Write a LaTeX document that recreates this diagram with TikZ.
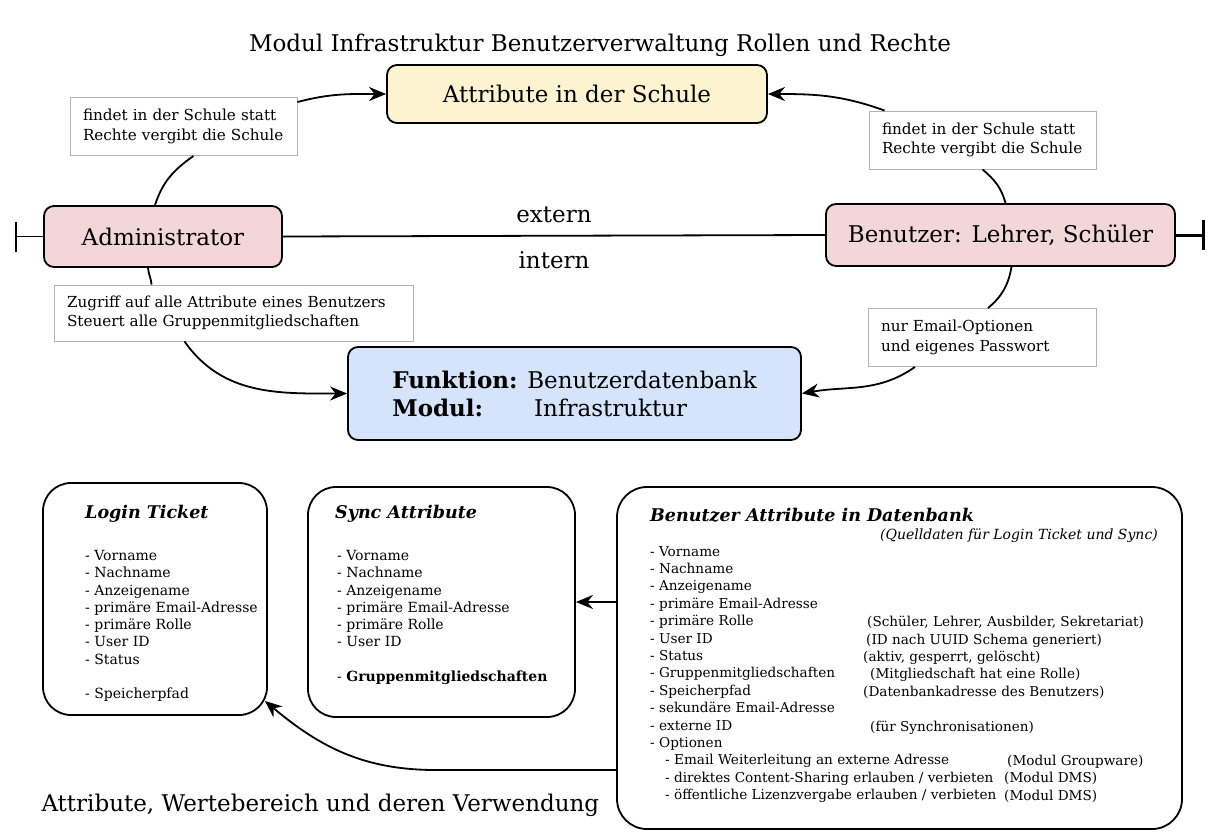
\documentclass[tikz,border=0pt]{standalone}
\usepackage{fontspec}
\setmainfont{DejaVu Serif}
\usepackage{tikz}
\usetikzlibrary{arrows.meta}
\definecolor{attrfill}{RGB}{253,243,208}
\definecolor{rolefill}{RGB}{243,214,216}
\definecolor{funkfill}{RGB}{213,228,250}
\newcommand{\grosstxt}{\fontsize{23}{28}\selectfont}
\newcommand{\notiztxt}{\fontsize{15.2}{19.5}\selectfont}
\newcommand{\listtxt}{\fontsize{14}{17.3}\selectfont}
\newcommand{\dbtxt}{\fontsize{13.6}{17.4}\selectfont}
\newcommand{\kopftxt}{\fontsize{17.5}{21}\selectfont\bfseries\itshape}

\begin{document}
\begin{tikzpicture}[x=1pt,y=-1pt,
  role/.style={draw,line width=1.8,rounded corners=10,font=\grosstxt},
  lbl/.style={draw=gray!60,line width=0.9,fill=white,align=left,inner xsep=13,font=\notiztxt,minimum height=58},
  panel/.style={draw,line width=1.8,rounded corners=28,fill=white},
  liste/.style={align=left,inner sep=0,font=\listtxt},
  kopf/.style={inner sep=0,font=\kopftxt},
  conn/.style={line width=1.8},
  arr/.style={conn,-{Stealth[length=17pt,width=14pt]}}]
\useasboundingbox (0,0) rectangle (1210,831);

\node[font=\grosstxt] (titel) at (600,45) {Modul Infrastruktur Benutzerverwaltung Rollen und Rechte};
\node[role,fill=attrfill,minimum width=380,minimum height=58] (attr) at (577,94) {Attribute in der Schule};
\node[role,fill=rolefill,minimum width=238,minimum height=61] (admin) at (163,236.5) {Administrator};
\node[role,fill=rolefill,minimum width=349,minimum height=62] (benu) at (1000.5,235) {Benutzer: Lehrer, Schüler};
\node[role,fill=funkfill,minimum width=453,minimum height=93,align=left,font=\grosstxt] (funk) at (574.5,393.5)
  {\textbf{Funktion:} Benutzerdatenbank\\\textbf{Modul:}\hspace{51pt}Infrastruktur};

\node[lbl,text width=201] (lab1) at (183.5,126.5) {findet in der Schule statt\\Rechte vergibt die Schule};
\node[lbl,text width=201] (lab2) at (982.5,140) {findet in der Schule statt\\Rechte vergibt die Schule};
\node[lbl,text width=333,minimum height=56] (lab3) at (233.5,313) {Zugriff auf alle Attribute eines Benutzers\\Steuert alle Gruppenmitgliedschaften};
\node[lbl,text width=202] (lab4) at (982,337.5) {nur Email-Optionen\\und eigenes Passwort};

\coordinate (lend) at (15,236.5);
\coordinate (rend) at (1205,235);
\draw[conn,-{Bar[width=30pt]}] (admin.west) -- (lend);
\draw[line width=3,-{Bar[width=30pt]}] (benu.east) -- (rend);
\draw[conn] (admin.east) -- node[above=9pt,font=\grosstxt] (ext) {extern} node[below=12pt,font=\grosstxt] (int) {intern} (benu.west);

\draw[conn] ([xshift=-8]admin.north) to[out=72,in=-145] ([xshift=10]lab1.south);
\draw[arr] ([yshift=-5]lab1.north east) to[out=15,in=180] (attr.west);
\draw[conn] ([xshift=5]benu.north) to[out=105,in=-40] (lab2.south);
\draw[arr] ([xshift=16]lab2.north west) to[out=160,in=0] (attr.east);
\draw[conn] ([xshift=-15]admin.south) to[out=-85,in=95] ([xshift=98]lab3.north west);
\draw[arr] ([xshift=131]lab3.south west) to[out=-55,in=180] (funk.west);
\draw[conn] ([xshift=11]benu.south) to[out=-100,in=40] ([xshift=6]lab4.north);
\draw[arr] ([xshift=-67]lab4.south) to[out=-145,in=10] (funk.east);

\node[panel,minimum width=224,minimum height=232] (login) at (155,599) {};
\node[panel,minimum width=267,minimum height=230] (sync) at (441.5,602) {};
\node[panel,minimum width=565,minimum height=342,rounded corners=30] (db) at (899.5,658) {};

\node[kopf,anchor=west] (logintl) at (85,514) {Login Ticket};
\node[liste,anchor=north west] (loginit) at (85,550) {- Vorname\\- Nachname\\- Anzeigename\\- primäre Email-Adresse\\- primäre Rolle\\- User ID\\- Status\\[17.3pt]- Speicherpfad};
\node[kopf,anchor=west] (synctl) at (335,514) {Sync Attribute};
\node[liste,anchor=north west] (syncit) at (337,550) {- Vorname\\- Nachname\\- Anzeigename\\- primäre Email-Adresse\\- primäre Rolle\\- User ID\\[17.3pt]- \textbf{Gruppenmitgliedschaften}};
\node[kopf,anchor=west] (dbtl) at (650,515) {Benutzer Attribute in Datenbank};
\node[liste,anchor=east,font=\listtxt\itshape] (dbquelle) at (1158,536) {(Quelldaten für Login Ticket und Sync)};
\node[liste,anchor=north west,font=\dbtxt] (dbit) at (650,546) {- Vorname\\- Nachname\\- Anzeigename\\- primäre Email-Adresse\\- primäre Rolle\\- User ID\\- Status\\- Gruppenmitgliedschaften\\- Speicherpfad\\- sekundäre Email-Adresse\\- externe ID\\- Optionen\\\hspace*{15pt}- Email Weiterleitung an externe Adresse\\\hspace*{15pt}- direktes Content-Sharing erlauben / verbieten\\\hspace*{15pt}- öffentliche Lizenzvergabe erlauben / verbieten};
\node[liste,anchor=north west,font=\dbtxt] (dbwert) at (863,616) {\hspace*{4pt}(Schüler, Lehrer, Ausbilder, Sekretariat)\\\hspace*{3pt}(ID nach UUID Schema generiert)\\(aktiv, gesperrt, gelöscht)\\\hspace*{7pt}(Mitgliedschaft hat eine Rolle)\\(Datenbankadresse des Benutzers)\\[17.4pt]\hspace*{7pt}(für Synchronisationen)};
\node[liste,anchor=north west,font=\dbtxt] (dbmodul) at (1004,755) {\hspace*{3pt}(Modul Groupware)\\(Modul DMS)\\(Modul DMS)};

\draw[arr] (db.west |- sync.east) -- (sync.east);
\draw[arr] ([yshift=-112]db.west) -- ++(-180,0) to[out=180,in=-40] ([xshift=-3,yshift=15]login.south east);

\node[font=\grosstxt,anchor=west] (capt) at (38,805) {Attribute, Wertebereich und deren Verwendung};
\end{tikzpicture}
\end{document}
